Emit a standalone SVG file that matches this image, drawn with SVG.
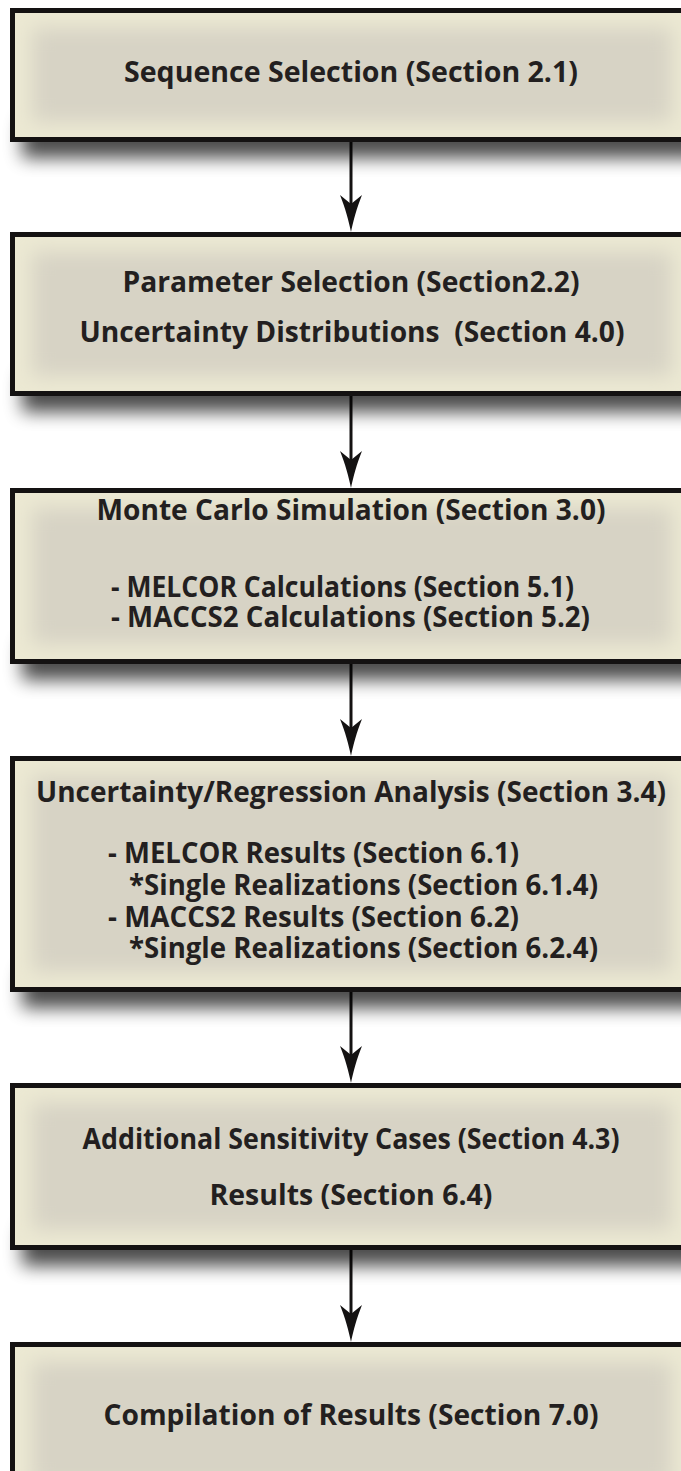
<svg xmlns="http://www.w3.org/2000/svg" width="681" height="1471" viewBox="0 0 681 1471">
<defs>
<style>
.bg{fill:#ece9d3}
.core{fill:#d7d3c5;filter:url(#soft)}
.frame{fill:none;stroke:#141212;stroke-width:5}
.shadow{fill:#000;opacity:0.7;filter:url(#shblur)}
.t{font-family:"Open Sans","Liberation Sans",sans-serif;font-weight:700;font-size:29px;fill:#231f20}
.c{text-anchor:middle}
.pre{white-space:pre}
.conn line{stroke:#141212;stroke-width:3}
.conn path{fill:#141212}
</style>
<filter id="soft" x="-20%" y="-30%" width="140%" height="160%"><feGaussianBlur stdDeviation="10"/></filter>
<filter id="shblur" x="-20%" y="-50%" width="140%" height="200%"><feGaussianBlur stdDeviation="9"/></filter>
<clipPath id="c1"><rect x="12" y="10" width="690" height="130"/></clipPath>
<clipPath id="c2"><rect x="12" y="234" width="690" height="160"/></clipPath>
<clipPath id="c3"><rect x="12" y="490" width="690" height="172"/></clipPath>
<clipPath id="c4"><rect x="12" y="758" width="690" height="232"/></clipPath>
<clipPath id="c5"><rect x="12" y="1085" width="690" height="163"/></clipPath>
<clipPath id="c6"><rect x="12" y="1344" width="690" height="160"/></clipPath>
</defs>
<rect width="681" height="1471" fill="#fff"/>

<g id="connectors" class="conn">
<line x1="351" y1="142" x2="351" y2="205"/>
<path d="M351,232 C349,222 345,207 340,195 L351,204 L362,195 C357,207 353,222 351,232 Z"/>
<line x1="351" y1="396" x2="351" y2="461"/>
<path d="M351,488 C349,478 345,463 340,451 L351,460 L362,451 C357,463 353,478 351,488 Z"/>
<line x1="351" y1="664" x2="351" y2="729"/>
<path d="M351,756 C349,746 345,731 340,719 L351,728 L362,719 C357,731 353,746 351,756 Z"/>
<line x1="351" y1="992" x2="351" y2="1056"/>
<path d="M351,1083 C349,1073 345,1058 340,1046 L351,1055 L362,1046 C357,1058 353,1073 351,1083 Z"/>
<line x1="351" y1="1250" x2="351" y2="1315"/>
<path d="M351,1342 C349,1332 345,1317 340,1305 L351,1314 L362,1305 C357,1317 353,1332 351,1342 Z"/>
</g>

<g id="node1">
<rect class="shadow" x="22" y="120" width="680" height="38"/>
<rect class="bg" x="12" y="10" width="690" height="130"/>
<rect class="core" x="32" y="28" width="640" height="94" clip-path="url(#c1)"/>
<rect class="frame" x="12.5" y="10.5" width="700" height="129"/>
<text class="t c" x="351" y="82" textLength="454" lengthAdjust="spacingAndGlyphs">Sequence Selection (Section 2.1)</text>
</g>

<g id="node2">
<rect class="shadow" x="22" y="374" width="680" height="38"/>
<rect class="bg" x="12" y="234" width="690" height="160"/>
<rect class="core" x="32" y="252" width="640" height="124" clip-path="url(#c2)"/>
<rect class="frame" x="12.5" y="234.5" width="700" height="159"/>
<text class="t c" x="351" y="292" textLength="457" lengthAdjust="spacingAndGlyphs">Parameter Selection (Section2.2)</text>
<text class="t c pre" x="352" y="342" textLength="545" lengthAdjust="spacingAndGlyphs">Uncertainty Distributions  (Section 4.0)</text>
</g>

<g id="node3">
<rect class="shadow" x="22" y="642" width="680" height="38"/>
<rect class="bg" x="12" y="490" width="690" height="172"/>
<rect class="core" x="32" y="508" width="640" height="136" clip-path="url(#c3)"/>
<rect class="frame" x="12.5" y="490.5" width="700" height="171"/>
<text class="t c" x="351" y="520" textLength="509" lengthAdjust="spacingAndGlyphs">Monte Carlo Simulation (Section 3.0)</text>
<text class="t" x="111" y="597" textLength="463" lengthAdjust="spacingAndGlyphs">- MELCOR Calculations (Section 5.1)</text>
<text class="t" x="111" y="627" textLength="479" lengthAdjust="spacingAndGlyphs">- MACCS2 Calculations (Section 5.2)</text>
</g>

<g id="node4">
<rect class="shadow" x="22" y="970" width="680" height="38"/>
<rect class="bg" x="12" y="758" width="690" height="232"/>
<rect class="core" x="32" y="776" width="640" height="196" clip-path="url(#c4)"/>
<rect class="frame" x="12.5" y="758.5" width="700" height="231"/>
<text class="t c" x="351" y="802" textLength="630" lengthAdjust="spacingAndGlyphs">Uncertainty/Regression Analysis (Section 3.4)</text>
<text class="t" x="108" y="863" textLength="411" lengthAdjust="spacingAndGlyphs">- MELCOR Results (Section 6.1)</text>
<text class="t" x="129" y="895" textLength="469" lengthAdjust="spacingAndGlyphs">*Single Realizations (Section 6.1.4)</text>
<text class="t" x="108" y="927" textLength="411" lengthAdjust="spacingAndGlyphs">- MACCS2 Results (Section 6.2)</text>
<text class="t" x="129" y="958" textLength="469" lengthAdjust="spacingAndGlyphs">*Single Realizations (Section 6.2.4)</text>
</g>

<g id="node5">
<rect class="shadow" x="22" y="1228" width="680" height="38"/>
<rect class="bg" x="12" y="1085" width="690" height="163"/>
<rect class="core" x="32" y="1103" width="640" height="127" clip-path="url(#c5)"/>
<rect class="frame" x="12.5" y="1085.5" width="700" height="162"/>
<text class="t c" x="351" y="1149" textLength="537" lengthAdjust="spacingAndGlyphs">Additional Sensitivity Cases (Section 4.3)</text>
<text class="t c" x="351" y="1205" textLength="283" lengthAdjust="spacingAndGlyphs">Results (Section 6.4)</text>
</g>

<g id="node6">
<rect class="bg" x="12" y="1344" width="690" height="160"/>
<rect class="core" x="32" y="1362" width="640" height="124" clip-path="url(#c6)"/>
<rect class="frame" x="12.5" y="1344.5" width="700" height="159"/>
<text class="t c" x="351" y="1425" textLength="495" lengthAdjust="spacingAndGlyphs">Compilation of Results (Section 7.0)</text>
</g>
</svg>
